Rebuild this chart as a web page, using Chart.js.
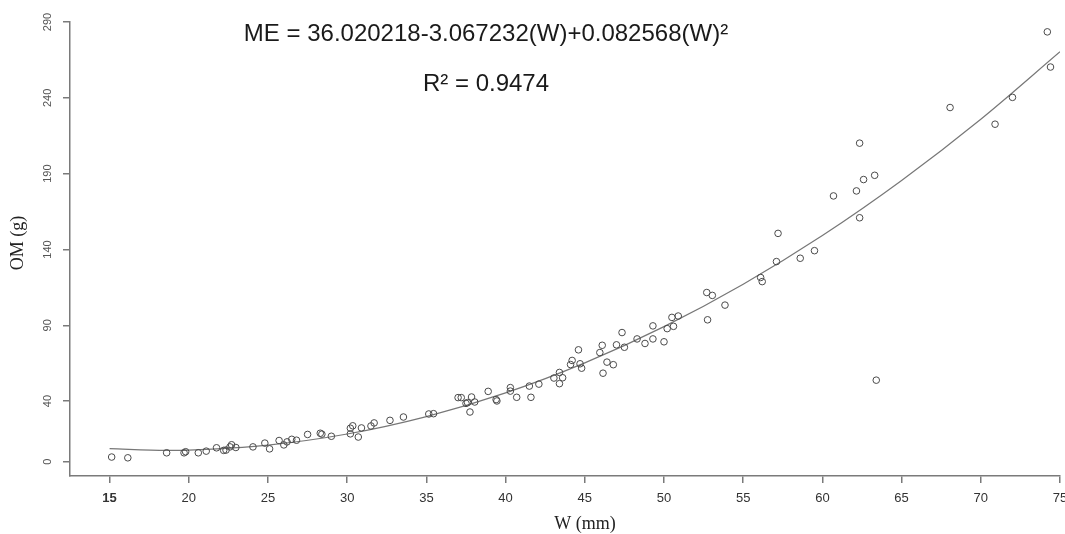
<!DOCTYPE html>
<html><head><meta charset="utf-8">
<script src="https://cdn.jsdelivr.net/npm/chart.js@4/dist/chart.umd.min.js"></script>
<style>html,body{margin:0;padding:0;background:#fff;}#wrap{width:1065px;height:534px;}</style>
</head><body><div id="wrap"><canvas id="c" width="1065" height="534"></canvas></div>
<script>
// Observed points: width W (mm) and organic matter OM (g)
const obsW = [15.13,16.15,18.6,19.7,19.8,20.6,21.1,21.75,22.2,22.35,22.6,22.7,22.97,24.05,24.8,25.1,25.7,26.0,26.2,26.5,
  26.8,27.5,28.3,28.4,29.0,30.2,30.2,30.35,30.7,30.9,31.5,31.7,32.7,33.55,35.15,35.45,37.0,37.2,37.5,37.6,
  37.75,37.85,38.05,38.9,39.4,39.45,40.3,40.3,40.7,41.5,41.6,42.1,43.05,43.4,43.4,43.6,44.1,44.2,44.6,44.7,
  44.8,45.95,46.1,46.15,46.4,46.8,47.0,47.35,47.5,48.3,48.8,49.3,49.3,50.0,50.2,50.5,50.6,50.9,52.7,52.75,
  53.05,53.85,56.1,56.2,57.1,57.2,58.6,59.5,60.7,62.15,62.35,62.35,62.6,63.3,63.4,68.06,70.9,72.0,74.2,74.4];
const obsOM = [3.1,2.6,5.9,5.9,6.6,5.9,7.0,9.2,7.5,7.7,9.8,11.2,9.4,9.8,12.3,8.5,14.0,11.1,13.1,14.8,
  14.2,18.0,18.8,18.2,16.8,18.4,22.1,23.7,16.3,22.3,23.6,25.6,27.3,29.5,31.5,31.7,42.3,42.3,38.5,39.0,
  32.8,42.7,39.4,46.4,41.0,40.1,48.9,46.6,42.5,49.9,42.5,51.2,55.2,58.9,51.5,55.4,64.1,66.8,73.8,64.6,
  61.7,72.0,76.8,58.4,65.7,64.0,77.1,85.2,75.5,81.0,78.0,81.0,89.6,79.1,87.8,95.2,89.3,96.1,111.6,93.6,
  109.7,103.3,121.5,118.8,132.0,150.6,134.2,139.2,175.3,178.6,160.9,210.1,186.1,188.9,53.8,233.6,222.6,240.3,283.5,260.3];
// Fitted curve
const fitW  = [15, 18.6, 20, 25, 30, 35, 40, 45, 50, 55, 60, 65, 70, 75];
const fitOM = [8.6, 7.5, 7.7, 11.0, 18.3, 29.8, 45.4, 65.2, 89.1, 117.1, 149.2, 185.5, 225.9, 270.4];
// Ticks and texts
const xTicks = [15, 20, 25, 30, 35, 40, 45, 50, 55, 60, 65, 70, 75];
const yTicks = [0, 40, 90, 140, 190, 240, 290];
const equationText = "ME = 36.020218-3.067232(W)+0.082568(W)²";
const r2Text = "R² = 0.9474";
const xTitle = "W (mm)";
const yTitle = "OM (g)";

const axisColor = '#7a7a7a';
const pointsData = obsW.map((w, i) => ({x: w, y: obsOM[i]}));
const fitData = fitW.map((w, i) => ({x: w, y: fitOM[i]}));

const textPlugin = {
  id: 'texts',
  afterDraw(chart) {
    const ctx = chart.ctx, ys = chart.scales.y;
    ctx.save();
    ctx.fillStyle = '#555';
    ctx.font = '11px "Liberation Sans", Arial, sans-serif';
    ctx.textAlign = 'center'; ctx.textBaseline = 'middle';
    ys.ticks.forEach(t => {
      const y = ys.getPixelForValue(t.value);
      ctx.save(); ctx.translate(48, y); ctx.rotate(-Math.PI / 2);
      ctx.fillText(String(t.value), 0, 0); ctx.restore();
    });
    ctx.fillStyle = '#222';
    ctx.font = '18px "Liberation Serif", "Times New Roman", serif';
    ctx.save(); ctx.translate(18, 243); ctx.rotate(-Math.PI / 2);
    ctx.fillText(yTitle, 0, 0); ctx.restore();
    ctx.fillText(xTitle, 585, 524);
    ctx.fillStyle = '#1a1a1a';
    ctx.font = '24px "Liberation Sans", Arial, sans-serif';
    ctx.fillText(equationText, 486, 34);
    ctx.fillText(r2Text, 486, 84);
    ctx.restore();
  }
};

new Chart(document.getElementById('c'), {
  type: 'scatter',
  data: {
    datasets: [
      {
        label: 'observed', data: pointsData,
        pointStyle: 'circle', pointRadius: 3.3, pointBorderWidth: 1,
        pointBorderColor: '#4a4a4a', pointBackgroundColor: 'rgba(0,0,0,0)', showLine: false
      },
      {
        label: 'fit', data: fitData, showLine: true, pointRadius: 0,
        borderColor: '#777', borderWidth: 1.2, cubicInterpolationMode: 'monotone', fill: false
      }
    ]
  },
  options: {
    responsive: false, animation: false,
    layout: {padding: {top: 22, right: 5, left: 0, bottom: 0}},
    plugins: {legend: {display: false}, tooltip: {enabled: false}},
    scales: {
      x: {
        type: 'linear', min: 12.5, max: 75,
        afterBuildTicks: s => { s.ticks = xTicks.map(v => ({value: v})); },
        afterFit: s => { s.height = 58; s.paddingLeft = 0; s.paddingRight = 0; },
        border: {display: true, color: axisColor, width: 1.5},
        grid: {display: true, drawOnChartArea: false, drawTicks: true, tickLength: 7, tickColor: axisColor, lineWidth: 1.5},
        ticks: {
          padding: 8, color: '#333', maxRotation: 0, autoSkip: false,
          font: ctx => ({family: '"Liberation Sans", Arial, sans-serif', size: 13, weight: ctx.tick && ctx.tick.value === 15 ? 'bold' : 'normal'}),
          callback: v => String(v)
        }
      },
      y: {
        type: 'linear', min: -9.4, max: 290,
        afterBuildTicks: s => { s.ticks = yTicks.map(v => ({value: v})); },
        afterFit: s => { s.width = 70; s.paddingTop = 0; s.paddingBottom = 0; },
        border: {display: true, color: axisColor, width: 1.5},
        grid: {display: true, drawOnChartArea: false, drawTicks: true, tickLength: 7, tickColor: axisColor, lineWidth: 1.5},
        ticks: {display: false}
      }
    }
  },
  plugins: [textPlugin]
});
</script></body></html>
